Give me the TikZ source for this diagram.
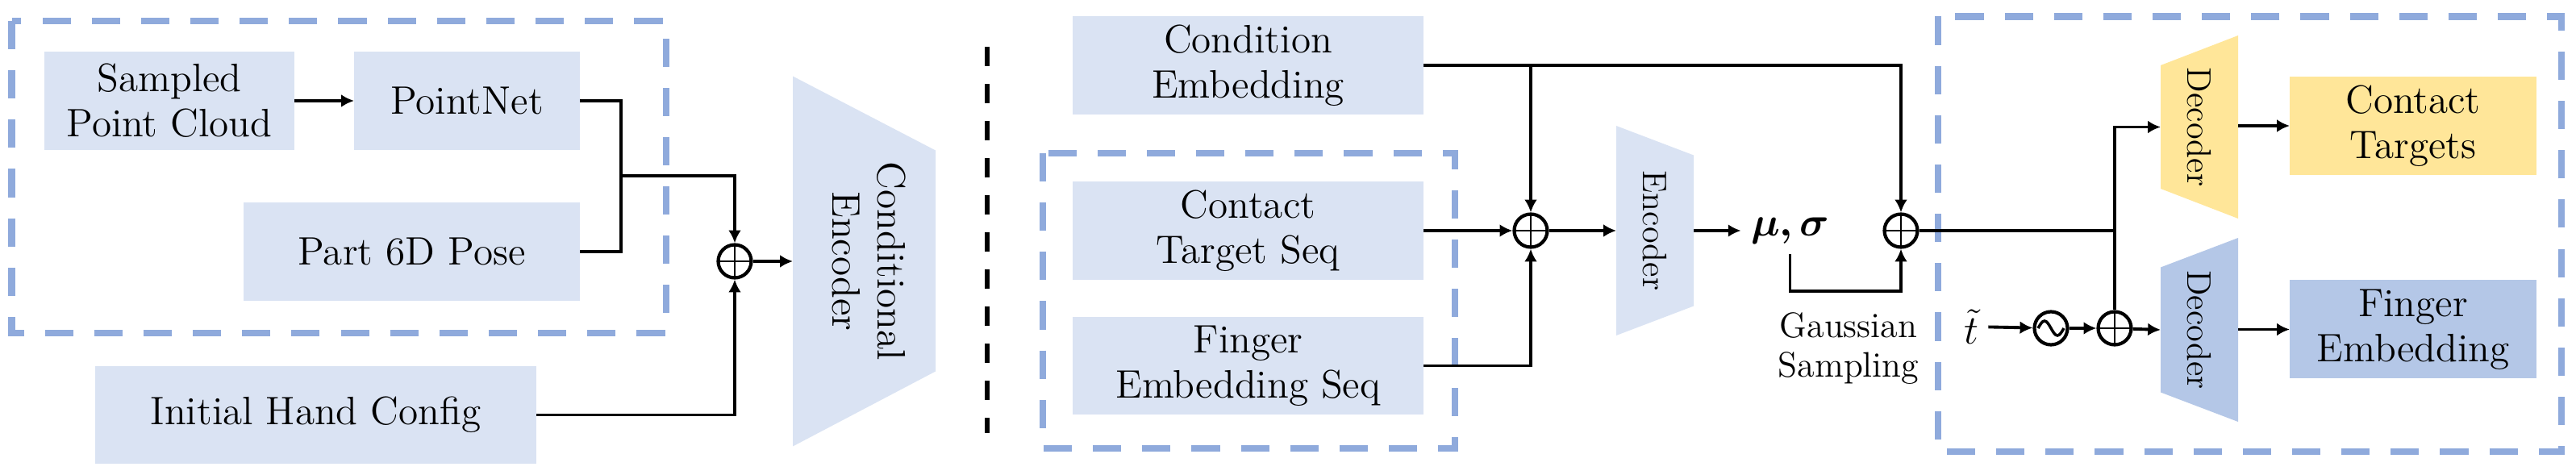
\documentclass[tikz,border=0pt]{standalone}
\usepackage{amsmath}
\usepackage{tikz}
\usetikzlibrary{arrows.meta, backgrounds}

\definecolor{boxblue}{HTML}{DAE3F3}
\definecolor{deepblue}{HTML}{B4C7E7}
\definecolor{boxyellow}{HTML}{FFE699}
\definecolor{dashblue}{HTML}{8FAADC}

\tikzstyle{process} = [rectangle, minimum width=4.35cm, minimum height=1.22cm,
  inner sep=0pt, outer sep=0pt, align=center, fill=boxblue,
  font=\fontsize{14}{16}\selectfont]
\tikzstyle{coder} = [rectangle, minimum width=0.96cm, inner sep=0pt,
  outer sep=0pt, font=\fontsize{12}{14}\selectfont]
\tikzstyle{sum} = [circle, draw, line width=1.2pt, minimum size=0.41cm,
  inner sep=0pt, path picture={\draw [line width=0.8pt]
    (path picture bounding box.north) -- (path picture bounding box.south)
    (path picture bounding box.west) -- (path picture bounding box.east);}]
\tikzstyle{osc} = [circle, draw, line width=1.2pt, minimum size=0.41cm,
  inner sep=0pt, path picture={\draw [line width=1pt]
    ([xshift=-0.16cm]path picture bounding box.center)
    sin ++(0.08,0.09) cos ++(0.08,-0.09) sin ++(0.08,-0.09) cos ++(0.08,0.09);}]
\tikzstyle{arrow} = [-{Latex[length=4.5pt, width=4.5pt]}, line width=1.1pt]
\tikzstyle{connector} = [line width=1.1pt]
\tikzstyle{groupbox} = [dashblue, line width=2.3pt, dash pattern=on 10pt off 7.4pt]
\tikzstyle{divider} = [line width=1.6pt, dash pattern=on 6.8pt off 6.3pt]

\begin{document}
\begin{tikzpicture}[node distance=2cm]
  \useasboundingbox (0,0) rectangle (31.94,-5.89);

  % conditional encoder
  \node (pcd) [process, minimum width=3.10cm] at (2.10,-1.25)
    {Sampled\\Point Cloud};
  \node (pnet) [process, right of=pcd, minimum width=2.80cm, xshift=1.69cm]
    {PointNet};
  \node (pose) [process, below of=pnet, minimum width=4.17cm, xshift=-0.685cm,
    yshift=0.13cm] {Part 6D Pose};
  \node (hand) [process, below of=pose, minimum width=5.47cm,
    minimum height=1.21cm, xshift=-1.19cm, yshift=-0.025cm]
    {Initial Hand Config};
  \coordinate [right of=pose, xshift=0.595cm, yshift=0.94cm] (pjoin);
  \node (add1) [sum, right of=pose, xshift=2.005cm, yshift=-0.12cm] {};
  \node (cenc) [coder, right of=add1, xshift=-0.395cm, minimum width=1.77cm,
    minimum height=4.59cm, font=\fontsize{14}{16}\selectfont]
    {\rotatebox{-90}{\begin{tabular}{@{}c@{}}Conditional\\Encoder\end{tabular}}};

  % encoder
  \node (cond) [process] at (15.475,-0.81) {Condition\\Embedding};
  \node (cts) [process, below of=cond, yshift=-0.05cm] {Contact\\Target Seq};
  \node (fes) [process, below of=cts, minimum height=1.21cm, yshift=0.325cm]
    {Finger\\Embedding Seq};
  \node (add2) [sum, right of=cts, xshift=1.505cm] {};
  \node (enc) [coder, right of=add2, xshift=-0.46cm, minimum height=2.60cm]
    {\rotatebox{-90}{Encoder}};
  \node (musig) [right of=enc, xshift=-0.325cm,
    font=\fontsize{14}{16}\selectfont]
    {$\boldsymbol{\mu}\boldsymbol{,}\,\boldsymbol{\sigma}$};
  \node (gauss) [below of=musig, xshift=0.725cm, yshift=0.54cm, align=center,
    font=\fontsize{12.5}{13.7}\selectfont] {Gaussian\\Sampling};
  \node (add3) [sum, right of=musig, xshift=-0.625cm] {};

  % decoders
  \coordinate [right of=add3, xshift=0.65cm] (split);
  \node (dec1) [coder, right of=add3, xshift=1.70cm, yshift=1.285cm,
    minimum height=2.27cm] {\rotatebox{-90}{Decoder}};
  \node (dec2) [coder, below of=dec1, yshift=-0.515cm, minimum height=2.28cm]
    {\rotatebox{-90}{Decoder}};
  \node (ct) [process, right of=dec1, minimum width=3.06cm, fill=boxyellow,
    xshift=0.65cm, yshift=0.015cm] {Contact\\Targets};
  \node (fe) [process, right of=dec2, minimum width=3.06cm, fill=deepblue,
    xshift=0.65cm, yshift=0.005cm] {Finger\\Embedding};
  \node (add4) [sum, left of=dec2, xshift=0.95cm, yshift=0.02cm] {};
  \node (wave) [osc, left of=add4, xshift=1.21cm] {};
  \node (ttil) [left of=wave, xshift=1.01cm, yshift=0.02cm,
    font=\fontsize{14}{16}\selectfont] {$\tilde{t}$};

  \begin{scope}[on background layer]
    \fill [boxblue] (cenc.north west) -- ([yshift=-0.92cm]cenc.north east)
      -- ([yshift=0.93cm]cenc.south east) -- (cenc.south west) -- cycle;
    \fill [boxblue] (enc.north west) -- ([yshift=-0.365cm]enc.north east)
      -- ([yshift=0.365cm]enc.south east) -- (enc.south west) -- cycle;
    \fill [boxyellow] (dec1.north east) -- (dec1.south east)
      -- ([yshift=0.37cm]dec1.south west) -- ([yshift=-0.37cm]dec1.north west)
      -- cycle;
    \fill [deepblue] (dec2.north east) -- (dec2.south east)
      -- ([yshift=0.365cm]dec2.south west) -- ([yshift=-0.365cm]dec2.north west)
      -- cycle;
  \end{scope}

  \draw [groupbox] (0.145,-0.26) rectangle (8.26,-4.13);
  \draw [groupbox] (12.93,-1.90) rectangle (18.04,-5.56);
  \draw [groupbox] (24.03,-0.205) rectangle (31.76,-5.60);
  \draw [divider] (12.24,-0.58) -- (12.24,-5.37);

  \draw [arrow] (pcd) -- (pnet);
  \draw [connector] (pnet.east) -| (pjoin) |- (pose.east);
  \draw [arrow] (pjoin) -| (add1.north);
  \draw [arrow] (hand.east) -| (add1.south);
  \draw [arrow] (add1.east) -- (cenc.west);

  \draw [arrow] (cond.east) -| (add3.north);
  \draw [arrow] (cond.east -| add2.north) -- (add2.north);
  \draw [arrow] (cts.east) -- (add2.west);
  \draw [arrow] (fes.east) -| (add2.south);
  \draw [arrow] (add2.east) -- (enc.west);
  \draw [arrow] (enc.east) -- (musig.west);
  \draw [arrow] (musig.south) -- ++(0,-0.46) -| (add3.south);

  \draw [connector] (add3.east) -- (split);
  \draw [arrow] (split) |- (dec1.west);
  \draw [connector] (split) -- (add4.north);
  \draw [arrow] (ttil) -- (wave);
  \draw [arrow] (wave) -- (add4);
  \draw [arrow] (add4) -- (dec2.west);
  \draw [arrow] (dec1.east |- ct.west) -- (ct.west);
  \draw [arrow] (dec2.east |- fe.west) -- (fe.west);
\end{tikzpicture}
\end{document}
